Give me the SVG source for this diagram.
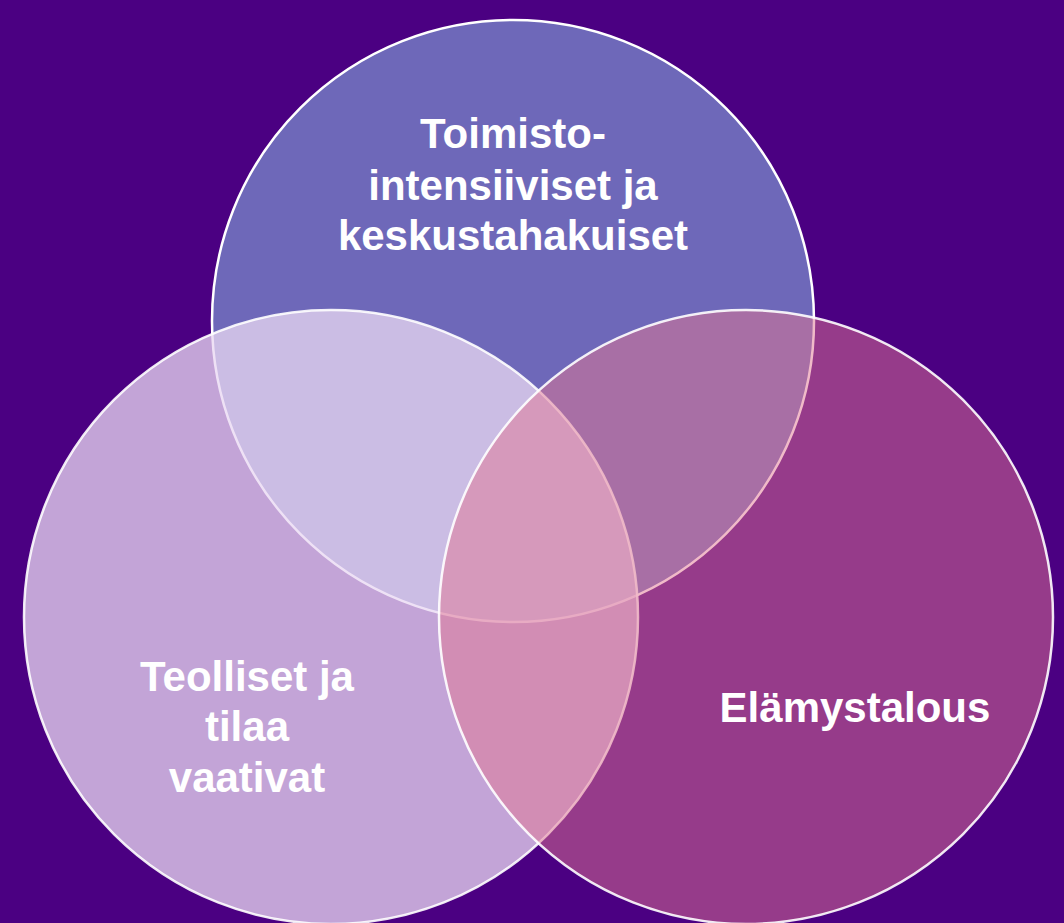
<svg xmlns="http://www.w3.org/2000/svg" width="1064" height="923" viewBox="0 0 1064 923">
<style>
.c{stroke:#ffffff;stroke-width:2.5}
.t{font-family:"Liberation Sans",Arial,sans-serif;font-weight:bold;font-size:42px;fill:#ffffff;text-anchor:middle}
</style>
<rect x="0" y="0" width="1064" height="923" fill="#4B0082"/>
<g id="top">
<circle class="c" cx="513" cy="321" r="301" fill="#6E68B9"/>
</g>
<g id="left">
<circle class="c" cx="331" cy="617" r="307" fill="#E9D8F2" fill-opacity="0.76" stroke-opacity="0.9"/>
</g>
<g id="right">
<circle class="c" cx="746" cy="617" r="307" fill="#E17692" fill-opacity="0.5" stroke-opacity="0.9"/>
</g>
<g id="labels">
<text class="t" x="513" y="148">Toimisto-</text>
<text class="t" x="513" y="200">intensiiviset ja</text>
<text class="t" x="513" y="250">keskustahakuiset</text>
<text class="t" x="247" y="691">Teolliset ja</text>
<text class="t" x="247" y="741">tilaa</text>
<text class="t" x="247" y="792">vaativat</text>
<text class="t" x="855" y="722">Elämystalous</text>
</g>
<g id="connectors"></g>
</svg>
